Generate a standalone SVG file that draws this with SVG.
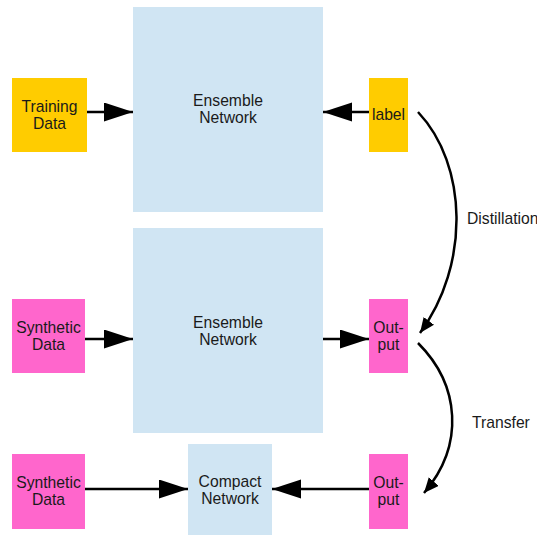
<svg xmlns="http://www.w3.org/2000/svg" width="537" height="535" viewBox="0 0 537 535">
<style>
text{font-family:"Liberation Sans",Arial,sans-serif;font-size:15.7px;fill:#1a1a1a;text-anchor:middle}
.y{fill:#FFCC00}.p{fill:#FF66CC}.b{fill:#D0E5F3}
.c{fill:none;stroke:#000;stroke-width:2.5}
.s{marker-end:url(#ah)}.k{marker-end:url(#ahs)}
.l{text-anchor:start}
</style>
<defs>
<marker id="ah" markerUnits="userSpaceOnUse" markerWidth="30" markerHeight="20" refX="29" refY="9.5" orient="auto"><path d="M0,0 L29,9.5 L0,19 z" fill="#000"/></marker>
<marker id="ahs" markerUnits="userSpaceOnUse" markerWidth="17" markerHeight="14" refX="15" refY="6.5" orient="auto"><path d="M0,0 L15,6.5 L0,13 z" fill="#000"/></marker>
</defs>
<rect width="537" height="535" fill="#fff"/>
<g id="ensemble1"><rect class="b" x="133" y="7" width="190" height="205"/><text x="228" y="106">Ensemble</text><text x="228" y="123">Network</text></g>
<g id="ensemble2"><rect class="b" x="133" y="228" width="190" height="205"/><text x="228" y="328">Ensemble</text><text x="228" y="345">Network</text></g>
<g id="compact"><rect class="b" x="188" y="444" width="84" height="91"/><text x="230" y="487">Compact</text><text x="230" y="504">Network</text></g>
<g id="training"><rect class="y" x="12" y="78" width="75" height="74"/><text x="49.5" y="112">Training</text><text x="49.5" y="129">Data</text></g>
<g id="label"><rect class="y" x="369" y="78" width="39" height="74"/><text x="388.5" y="120">label</text></g>
<g id="synth1"><rect class="p" x="12" y="299" width="73" height="74"/><text x="48.5" y="333">Synthetic</text><text x="48.5" y="350">Data</text></g>
<g id="output1"><rect class="p" x="369" y="299" width="39" height="74"/><text x="388.5" y="333">Out-</text><text x="388.5" y="350">put</text></g>
<g id="synth2"><rect class="p" x="12" y="454" width="73" height="75"/><text x="48.5" y="488">Synthetic</text><text x="48.5" y="505">Data</text></g>
<g id="output2"><rect class="p" x="369" y="454" width="39" height="75"/><text x="388.5" y="488">Out-</text><text x="388.5" y="505">put</text></g>
<g id="connectors">
<line class="c s" x1="87" y1="112" x2="133" y2="112"/>
<line class="c s" x1="369" y1="112" x2="323" y2="112"/>
<line class="c s" x1="85" y1="339" x2="133" y2="339"/>
<line class="c s" x1="323" y1="339" x2="369" y2="339"/>
<line class="c s" x1="85" y1="489" x2="188" y2="489"/>
<line class="c s" x1="369" y1="489" x2="272" y2="489"/>
<path class="c k" d="M418,112 C468,165 470,265 420,333"/>
<path class="c k" d="M418,343 C460,385 465,445 424,493"/>
<text class="l" x="467" y="224">Distillation</text>
<text class="l" x="472" y="428">Transfer</text>
</g>
</svg>
